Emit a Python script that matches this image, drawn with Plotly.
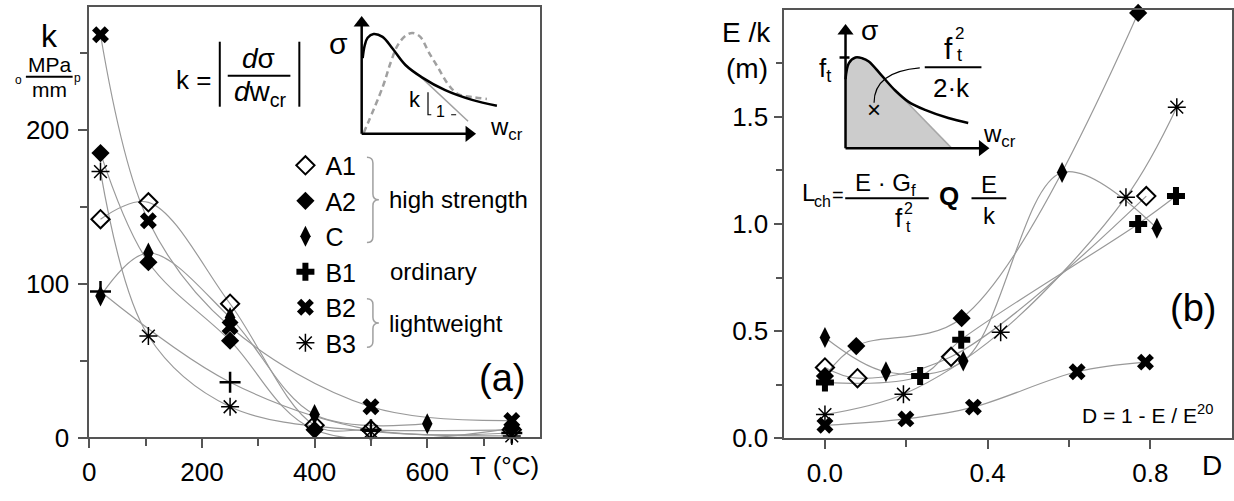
import plotly.graph_objects as go

W, H = 1234, 501
FONT = "Arial, 'Liberation Sans', sans-serif"
GRAY = "#999999"
FRAME = "#555555"


def px(x):
    return x / W


def py(y):
    return 1 - y / H


# ---------------- panel (a): k versus temperature ----------------
T_A1 = [20, 105, 250, 400, 500, 750]
K_A1 = [142, 153, 87, 8, 5, 5]
T_A2 = [20, 105, 250, 400, 750]
K_A2 = [185, 114, 63, 5, 6]
T_C = [20, 105, 250, 400, 600]
K_C = [92, 120, 78, 15, 9]
T_B1 = [20, 250, 500, 750]
K_B1 = [95, 36, 5, 3]
T_B2 = [20, 105, 250, 500, 750]
K_B2 = [262, 141, 72, 20, 11]
T_B3 = [20, 105, 250, 500, 750]
K_B3 = [173, 66, 20, 4, 1]

# ---------------- panel (b): E/k versus damage D ----------------
D_A1 = [0, 0.08, 0.31, 0.79]
E_A1 = [0.33, 0.28, 0.38, 1.13]
D_A2 = [0, 0.077, 0.336, 0.77]
E_A2 = [0.29, 0.43, 0.56, 1.985]
D_C = [0, 0.15, 0.34, 0.583, 0.816]
E_C = [0.47, 0.31, 0.36, 1.24, 0.98]
D_B1 = [0, 0.234, 0.335, 0.77, 0.863]
E_B1 = [0.26, 0.29, 0.46, 1.0, 1.13]
D_B2 = [0, 0.199, 0.365, 0.62, 0.788]
E_B2 = [0.06, 0.09, 0.145, 0.31, 0.355]
D_B3 = [0, 0.193, 0.432, 0.74, 0.865]
E_B3 = [0.11, 0.205, 0.495, 1.125, 1.545]

SERIES = ["A1", "A2", "C", "B1", "B2", "B3"]
LEFT = {"A1": (T_A1, K_A1), "A2": (T_A2, K_A2), "C": (T_C, K_C),
        "B1": (T_B1, K_B1), "B2": (T_B2, K_B2), "B3": (T_B3, K_B3)}
RIGHT = {"A1": (D_A1, E_A1), "A2": (D_A2, E_A2), "C": (D_C, E_C),
         "B1": (D_B1, E_B1), "B2": (D_B2, E_B2), "B3": (D_B3, E_B3)}

MARKERS = {
    "A1": dict(symbol="diamond-open", size=14, color="black", line=dict(width=2, color="black")),
    "A2": dict(symbol="diamond", size=14, color="black"),
    "C": dict(symbol="diamond-tall", size=15, color="black"),
    "B1": dict(symbol="cross", size=15, color="black"),
    "B2": dict(symbol="x", size=15, color="black"),
    "B3": dict(symbol="asterisk-open", size=15, color="black", line=dict(width=1.5, color="black")),
}
THIN_PLUS = dict(symbol="cross-thin-open", size=15, color="black", line=dict(width=2.5, color="black"))

# schematic softening curves (inset sketches, in sketch units)
SK1_BLACK_U = [1, 3, 6, 12, 21, 31, 44, 61, 84, 111, 136]
SK1_BLACK_V = [78, 91, 99, 103, 100, 88, 71, 58, 45, 35, 29]
SK1_DASH_U = [2, 21, 29, 36, 44, 51, 59, 67, 77, 87, 97, 111, 126]
SK1_DASH_V = [1, 48, 73, 91, 101, 104, 100, 85, 68, 51, 41, 38, 36]
SK1_TAN_U = [58, 107]
SK1_TAN_V = [60, 13]

SK2_BLACK_U = [0, 3.4, 10, 16.7, 23.4, 36.7, 50, 63.4, 80, 103.4, 123.4]
SK2_BLACK_V = [71, 87.7, 93.4, 92.7, 89.4, 74.4, 59.4, 47.7, 39.4, 31, 26]
SK2_FILL_U = [0, 0, 3.4, 10, 16.7, 23.4, 36.7, 50, 58.4, 106.7, 0]
SK2_FILL_V = [0, 71, 87.7, 93.4, 92.7, 89.4, 74.4, 59.4, 51, 0, 0]

fig = go.Figure()

# fitted trend curves
for s in SERIES:
    x, y = LEFT[s]
    fig.add_trace(go.Scatter(x=x, y=y, mode="lines", line=dict(color=GRAY, width=1.2, shape="spline"),
                             showlegend=False, hoverinfo="skip", xaxis="x", yaxis="y"))
    x, y = RIGHT[s]
    fig.add_trace(go.Scatter(x=x, y=y, mode="lines", line=dict(color=GRAY, width=1.2, shape="spline"),
                             showlegend=False, hoverinfo="skip", xaxis="x2", yaxis="y2"))

# measured points
for s in SERIES:
    x, y = LEFT[s]
    mk = THIN_PLUS if s == "B1" else MARKERS[s]
    fig.add_trace(go.Scatter(x=x, y=y, mode="markers", marker=mk, cliponaxis=False,
                             showlegend=False, xaxis="x", yaxis="y"))
    x, y = RIGHT[s]
    fig.add_trace(go.Scatter(x=x, y=y, mode="markers", marker=MARKERS[s], cliponaxis=False,
                             showlegend=False, xaxis="x2", yaxis="y2"))

# legend entries
for s in SERIES:
    fig.add_trace(go.Scatter(x=[None], y=[None], mode="markers", marker=MARKERS[s], name=s,
                             legendgroup=s, showlegend=True, xaxis="x", yaxis="y"))

# ---- inset sketch (a) ----
fig.add_trace(go.Scatter(x=SK1_DASH_U, y=SK1_DASH_V, mode="lines",
                         line=dict(color="#a0a0a0", width=2.5, dash="6px,4px", shape="spline"),
                         showlegend=False, xaxis="x3", yaxis="y3", hoverinfo="skip"))
fig.add_trace(go.Scatter(x=SK1_TAN_U, y=SK1_TAN_V, mode="lines", line=dict(color="#a0a0a0", width=1.5),
                         showlegend=False, xaxis="x3", yaxis="y3", hoverinfo="skip"))
fig.add_trace(go.Scatter(x=SK1_BLACK_U, y=SK1_BLACK_V, mode="lines",
                         line=dict(color="black", width=2.5, shape="spline"),
                         showlegend=False, xaxis="x3", yaxis="y3", hoverinfo="skip"))
fig.add_trace(go.Scatter(x=[0, 0, None, 0, 106], y=[112, 0, None, 0, 0], mode="lines",
                         line=dict(color="black", width=2.5),
                         showlegend=False, xaxis="x3", yaxis="y3", hoverinfo="skip"))
fig.add_trace(go.Scatter(x=[0, 108], y=[114.3, 0], mode="markers",
                         marker=dict(symbol=["triangle-up", "triangle-right"], size=14, color="black"),
                         showlegend=False, xaxis="x3", yaxis="y3", hoverinfo="skip", cliponaxis=False))
fig.add_trace(go.Scatter(x=[66.7, 66.7, 70, None, 90, 95], y=[43, 19.7, 19.7, None, 19.7, 19.7], mode="lines",
                         line=dict(color="black", width=1.2),
                         showlegend=False, xaxis="x3", yaxis="y3", hoverinfo="skip"))

# ---- inset sketch (b) ----
fig.add_trace(go.Scatter(x=SK2_FILL_U, y=SK2_FILL_V, mode="lines", fill="toself", fillcolor="#cccccc",
                         line=dict(width=0, color="#cccccc"),
                         showlegend=False, xaxis="x4", yaxis="y4", hoverinfo="skip"))
fig.add_trace(go.Scatter(x=[58.4, 106.7], y=[51, 0], mode="lines", line=dict(color="#a8a8a8", width=1.5),
                         showlegend=False, xaxis="x4", yaxis="y4", hoverinfo="skip"))
fig.add_trace(go.Scatter(x=SK2_BLACK_U, y=SK2_BLACK_V, mode="lines",
                         line=dict(color="black", width=2.5, shape="spline"),
                         showlegend=False, xaxis="x4", yaxis="y4", hoverinfo="skip"))
fig.add_trace(go.Scatter(x=[0, 0, None, 0, 135, None, -6, 4], y=[119, 0, None, 0, 0, None, 93.4, 93.4],
                         mode="lines", line=dict(color="black", width=2.5),
                         showlegend=False, xaxis="x4", yaxis="y4", hoverinfo="skip"))
fig.add_trace(go.Scatter(x=[0, 137.7], y=[120.7, 0], mode="markers",
                         marker=dict(symbol=["triangle-up", "triangle-right"], size=14, color="black"),
                         showlegend=False, xaxis="x4", yaxis="y4", hoverinfo="skip", cliponaxis=False))

# ---------------- text ----------------
def txt(x, y, s, size, xanchor="center", yanchor="middle"):
    return dict(x=px(x), y=py(y), xref="paper", yref="paper", text=s, showarrow=False,
                font=dict(family=FONT, size=size, color="black"), xanchor=xanchor, yanchor=yanchor)


ann = [
    # axis titles
    txt(43, 37, "k", 32),
    txt(43, 67, "MPa", 21),
    txt(43, 92, "mm", 21),
    txt(12, 82, "o", 12),
    txt(71, 80, "p", 12),
    txt(500, 480, "T (°C)", 26),
    txt(744, 33, "E /k", 28),
    txt(744, 71, "(m)", 28),
    txt(1212, 480, "D", 28),
    # panel tags
    txt(498, 390, "(a)", 38),
    txt(1193, 317, "(b)", 38),
    # legend groups
    txt(382, 206, "high strength", 24, xanchor="left"),
    txt(383, 280, "ordinary", 24, xanchor="left"),
    txt(382, 333, "lightweight", 24, xanchor="left"),
    # definition of k
    txt(188, 82, "k =", 26),
    txt(253, 60, "<i>d</i>σ", 28),
    txt(255, 96, "<i>d</i>w<sub>cr</sub>", 28),
    txt(333, 45, "σ", 30),
    txt(410, 103, "k", 22),
    txt(436, 115, "1", 16),
    txt(502, 132, "w<sub>cr</sub>", 24),
    # sketch (b)
    txt(867, 31, "σ", 28),
    txt(823, 72, "f<sub>t</sub>", 26),
    txt(998, 140, "w<sub>cr</sub>", 24),
    txt(872, 113, "×", 24),
    txt(947, 50, "f", 30),
    txt(958, 35, "2", 17),
    txt(958, 57, "t", 18),
    txt(950, 91, "2·k", 26),
    # characteristic length
    txt(806, 198, "L", 24),
    txt(820, 208, "ch", 16),
    txt(836, 201, "=", 20),
    txt(884, 190, "E · G<sub>f</sub>", 24),
    txt(897, 225, "f", 26),
    txt(907, 215, "2", 16),
    txt(907, 233, "t", 16),
    txt(947, 202, "<b>Q</b>", 26),
    txt(988, 190, "E", 24),
    txt(988, 222, "k", 24),
    txt(1215, 427, "D = 1 - E / E<sup>20</sup>", 21, xanchor="right"),
]


def seg(x0, y0, x1, y1, color="black", width=2):
    return dict(type="line", xref="paper", yref="paper", x0=px(x0), y0=py(y0), x1=px(x1), y1=py(y1),
                line=dict(color=color, width=width))


def path(cmds, color, width):
    parts = []
    for c in cmds:
        op, pts = c[0], c[1:]
        coords = []
        for i in range(0, len(pts), 2):
            coords.append(f"{px(pts[i]):.5f},{py(pts[i + 1]):.5f}")
        parts.append(op + " " + " ".join(coords))
    return dict(type="path", xref="paper", yref="paper", path=" ".join(parts),
                line=dict(color=color, width=width))


shapes = [
    seg(19, 79, 66, 79),
    seg(214, 43, 214, 110),
    seg(294, 43, 294, 110),
    seg(222, 78, 285, 78),
    seg(923, 69.3, 980, 69.3),
    seg(843, 204.3, 927, 204.3),
    seg(970, 204.3, 1005, 204.3),
    path([("M", 362, 162), ("Q", 368, 162, 368, 168), ("L", 368, 200), ("Q", 368, 206, 374, 206),
          ("Q", 368, 206, 368, 212), ("L", 368, 244), ("Q", 368, 250, 362, 250)], "#a0a0a0", 1.5),
    path([("M", 362, 308), ("Q", 368, 308, 368, 314), ("L", 368, 327), ("Q", 368, 333, 374, 333),
          ("Q", 368, 333, 368, 339), ("L", 368, 352), ("Q", 368, 358, 362, 358)], "#a0a0a0", 1.5),
    path([("M", 918, 70), ("C", 895, 72, 872, 80, 872, 106)], "black", 1.2),
]

axis_common = dict(showline=True, mirror=True, linecolor=FRAME, linewidth=1.5, ticks="outside",
                   ticklen=9, tickwidth=1.5, tickcolor=FRAME, showgrid=False, zeroline=False,
                   tickfont=dict(family=FONT, size=26, color="black"))

fig.update_layout(
    width=W, height=H, margin=dict(l=0, r=0, t=0, b=0),
    paper_bgcolor="white", plot_bgcolor="rgba(0,0,0,0)",
    font=dict(family=FONT, color="black"),
    xaxis=dict(domain=[px(82.7), px(536)], range=[0, 800], tickvals=[0, 200, 400, 600], anchor="y",
               minor=dict(tickvals=[100, 300, 500, 700], ticklen=7, ticks="outside", tickcolor=FRAME),
               ticklabelstandoff=2, **axis_common),
    yaxis=dict(domain=[py(451), py(7.3)], range=[0, 280], tickvals=[0, 100, 200], anchor="x",
               minor=dict(tickvals=[50, 150, 250], ticklen=7, ticks="outside", tickcolor=FRAME),
               ticklabelstandoff=4, **axis_common),
    xaxis2=dict(domain=[px(781.7), px(1231.7)], range=[-0.1, 1.0], tickvals=[0, 0.4, 0.8],
                ticktext=["0.0", "0.4", "0.8"], anchor="y2",
                minor=dict(tickvals=[0.2, 0.6], ticklen=7, ticks="outside", tickcolor=FRAME),
                ticklabelstandoff=2, **axis_common),
    yaxis2=dict(domain=[py(451.7), py(10)], range=[0, 2.0], tickvals=[0, 0.5, 1.0, 1.5],
                ticktext=["0.0", "0.5", "1.0", "1.5"], anchor="x2",
                minor=dict(tickvals=[0.25, 0.75, 1.25, 1.75], ticklen=7, ticks="outside", tickcolor=FRAME),
                **axis_common),
    xaxis3=dict(domain=[px(340), px(540)], range=[-16.7, 183.3], visible=False, anchor="y3"),
    yaxis3=dict(domain=[py(150), py(5)], range=[-12, 133], visible=False, anchor="x3"),
    xaxis4=dict(domain=[px(825), px(1010)], range=[-18.3, 166.7], visible=False, anchor="y4"),
    yaxis4=dict(domain=[py(165), py(15)], range=[-12.3, 137.7], visible=False, anchor="x4"),
    legend=dict(x=px(280), y=py(147), xanchor="left", yanchor="top", bgcolor="rgba(0,0,0,0)",
                font=dict(family=FONT, size=25, color="black"), itemsizing="trace",
                tracegroupgap=1.5, borderwidth=0, traceorder="normal"),
    annotations=ann,
    shapes=shapes,
    showlegend=True,
)

fig.write_html("out.html")
